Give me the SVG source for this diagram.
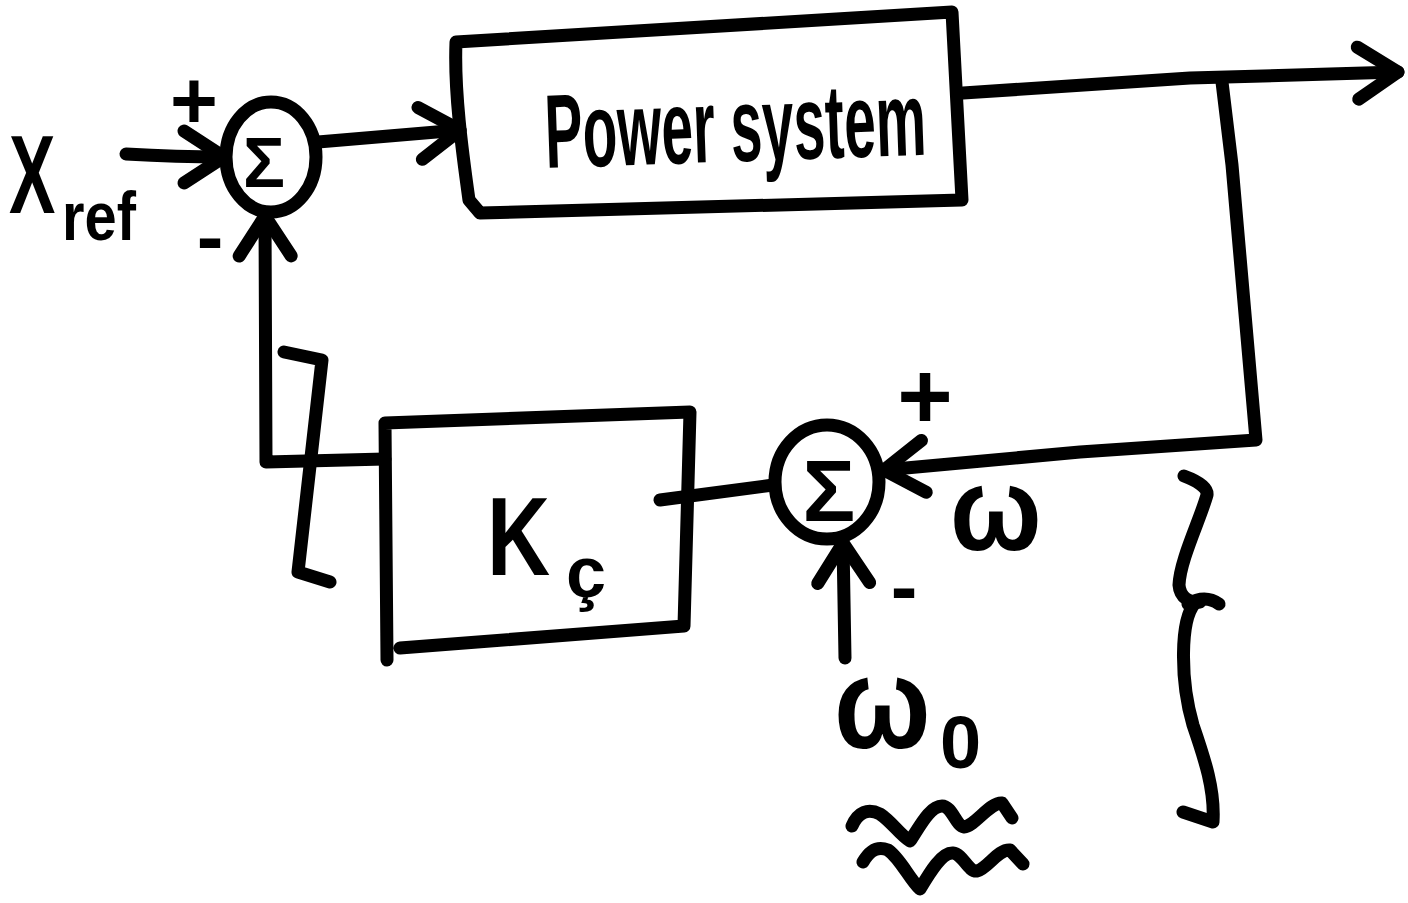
<svg xmlns="http://www.w3.org/2000/svg" width="1408" height="903" viewBox="0 0 1408 903">
<style>
.ink{fill:none;stroke:#000;stroke-width:13;stroke-linecap:round;stroke-linejoin:round}
.lbl{font-family:"Liberation Sans","DejaVu Sans",Arial,sans-serif;font-weight:bold;fill:#000}
</style>
<defs>
<marker id="arrow" viewBox="0 0 50 60" refX="46" refY="30" markerWidth="50" markerHeight="60" markerUnits="userSpaceOnUse" orient="auto" overflow="visible">
<path d="M6,4 L46,30 L6,56" fill="none" stroke="#000" stroke-width="13" stroke-linecap="round" stroke-linejoin="round"/>
</marker>
</defs>
<rect width="1408" height="903" fill="#fff"/>

<g id="connectors">
<path class="ink" d="M126,154 C160,156 195,157 224,157" marker-end="url(#arrow)"/>
<path class="ink" d="M318,142 L460,130" marker-end="url(#arrow)"/>
<path class="ink" d="M963,93 L1190,78 L1398,72" marker-end="url(#arrow)"/>
<path class="ink" d="M1222,82 L1232,165 L1256,440 L1080,452 L884,470" marker-end="url(#arrow)"/>
<path class="ink" d="M773,485 L660,500"/>
<path class="ink" d="M385,459 L266,462 L265,216" marker-end="url(#arrow)"/>
<path class="ink" d="M845,658 L843,543" marker-end="url(#arrow)"/>
</g>

<g id="sum1">
<ellipse class="ink" cx="271" cy="157" rx="45" ry="55"/>
<text class="lbl" x="264" y="187" font-size="70" text-anchor="middle">Σ</text>
<text class="lbl" x="194" y="128" font-size="82" text-anchor="middle">+</text>
<text class="lbl" x="210" y="264" font-size="80" text-anchor="middle">-</text>
</g>

<g id="power-system">
<path class="ink" d="M456,42 C454,90 462,150 469,200 L480,213 L962,200 L952,12 Z"/>
<text class="lbl" font-size="105" transform="translate(546 168) rotate(-2) scale(0.54 1)">Power system</text>
</g>

<g id="k-block">
<path class="ink" d="M387,660 L385,423 L690,412 L684,626 L400,648"/>
<text class="lbl" font-size="112" transform="translate(487 575) scale(0.78 1)">K</text>
<text class="lbl" x="566" y="597" font-size="72">ç</text>
</g>

<g id="sum2">
<ellipse class="ink" cx="827" cy="482" rx="52" ry="57"/>
<text class="lbl" x="829" y="521" font-size="88" text-anchor="middle">Σ</text>
<text class="lbl" x="925" y="428" font-size="95" text-anchor="middle">+</text>
<text class="lbl" x="904" y="614" font-size="80" text-anchor="middle">-</text>
</g>

<g id="label-xref">
<text class="lbl" font-size="112" transform="translate(9 213) scale(0.62 1)">X</text>
<text class="lbl" font-size="68" transform="translate(62 240) scale(0.85 1)">ref</text>
</g>

<g id="label-omega">
<text class="lbl" font-size="118" transform="translate(950 550) scale(0.92 1)">ω</text>
</g>

<g id="label-omega0">
<text class="lbl" font-size="130" transform="translate(834 748) scale(0.88 1)">ω</text>
<text class="lbl" x="940" y="768" font-size="74">0</text>
</g>

<g id="annotations">
<path class="ink" d="M284,352 L322,360 L298,572 L330,582"/>
<path class="ink" d="M1184,476 C1195,480 1208,487 1207,495 C1200,520 1180,560 1179,585 C1180,598 1190,603 1200,602"/>
<path class="ink" d="M1188,604 Q1205,594 1219,604"/>
<path class="ink" d="M1195,603 C1180,620 1180,680 1193,725 C1205,760 1215,790 1213,822 L1183,812"/>
<path class="ink" d="M852,826 C858,812 868,808 880,814 C892,822 900,835 910,841 C920,826 930,806 942,806 C952,806 956,826 964,827 C975,826 990,802 1002,803 L1012,818"/>
<path class="ink" d="M863,862 C870,850 878,846 888,850 C900,858 910,880 920,889 C930,872 942,852 953,853 C963,854 968,872 977,871 C988,868 998,849 1010,850 L1023,864"/>
</g>
</svg>
